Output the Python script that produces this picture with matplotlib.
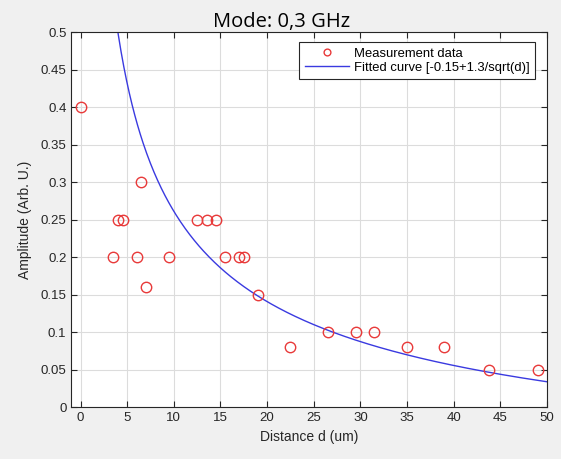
import numpy as np
import matplotlib
matplotlib.use('Agg')
import matplotlib.pyplot as plt
from matplotlib.ticker import FuncFormatter

distance = [0, 3.5, 4, 4.5, 6, 6.5, 7, 9.5, 12.5, 13.5, 14.5, 15.5, 17, 17.5,
            19, 22.5, 26.5, 29.5, 31.5, 35, 39, 43.8, 49]
amplitude = [0.4, 0.2, 0.25, 0.25, 0.2, 0.3, 0.16, 0.2, 0.25, 0.25, 0.25, 0.2, 0.2, 0.2,
             0.15, 0.08, 0.1, 0.1, 0.1, 0.08, 0.08, 0.05, 0.05]

# Fit parameters: -0.15 + 1.3/sqrt(d)
fit_a = -0.15
fit_b = 1.3

x_ticks = [0, 5, 10, 15, 20, 25, 30, 35, 40, 45, 50]
y_ticks = [0, 0.05, 0.1, 0.15, 0.2, 0.25, 0.3, 0.35, 0.4, 0.45, 0.5]

plt.rcParams['font.family'] = ['Liberation Sans', 'DejaVu Sans']
axcol = '#262626'

fig = plt.figure(figsize=(5.61, 4.59), dpi=100, facecolor='#f0f0f0')
ax = fig.add_axes([0.127, 0.113, 0.848, 0.817])

d = np.linspace(1.0, 50, 500)
ax.plot(distance, amplitude, 'o', mfc='none', mec='#e83a3a', ms=7.5, mew=1.0,
        label='Measurement data', zorder=3)
ax.plot(d, fit_a + fit_b / np.sqrt(d), color='#3a3ae0', lw=1.0,
        label='Fitted curve [-0.15+1.3/sqrt(d)]', zorder=2)

ax.set_xlim(-1, 50)
ax.set_ylim(0, 0.5)
ax.set_xticks(x_ticks)
ax.set_yticks(y_ticks)
ax.yaxis.set_major_formatter(FuncFormatter(lambda v, p: '%g' % round(v, 3)))
ax.grid(True, color='#dcdcdc', lw=0.8)
ax.set_axisbelow(True)
ax.tick_params(direction='in', top=True, right=True, colors=axcol,
               labelsize=9.5, length=4)
for s in ax.spines.values():
    s.set_color(axcol)
    s.set_linewidth(0.8)

ax.set_xlabel('Distance d (um)', fontsize=10, color=axcol)
ax.set_ylabel('Amplitude (Arb. U.)', fontsize=10, color=axcol, labelpad=6)
ax.set_title('Mode: 0,3 GHz', fontsize=14.5, family=['Open Sans', 'DejaVu Sans'],
             pad=4, x=0.443)

leg = ax.legend(loc='upper right', fontsize=9.4, fancybox=False, framealpha=1,
                edgecolor=axcol, borderpad=0.4, handlelength=3.4,
                handletextpad=0.4, markerscale=0.65, borderaxespad=0,
                bbox_to_anchor=(0.975, 0.973), labelspacing=0.15)
leg.get_frame().set_linewidth(0.8)

fig.savefig('out.png', dpi=100, facecolor=fig.get_facecolor())
